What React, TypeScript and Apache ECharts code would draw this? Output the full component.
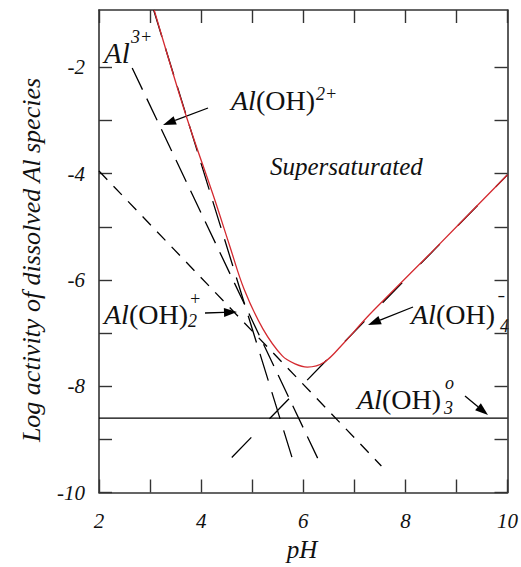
import React, { useEffect, useRef } from "react";
import * as echarts from "echarts";

// pH axis
const xMin = 2;
const xMax = 10;
const xTicks = [2, 3, 4, 5, 6, 7, 8, 9, 10];
const xLabels = [2, 4, 6, 8, 10];
// log activity axis
const yMin = -10;
const yMax = -0.92;
const yTicks = [-10, -9, -8, -7, -6, -5, -4, -3, -2];
const yLabels = [-10, -8, -6, -4, -2];

// species lines [pH, log activity]
const al3 = [[3.07, -0.92], [5.78, -9.34]];
const alOH2plus = [[2.65, -2.01], [6.31, -9.41]];
const alOH2 = [[2.0, -3.95], [7.53, -9.5]];
const alOH3 = [[2.0, -8.6], [10.0, -8.6]];
const alOH4 = [[4.6, -9.34], [10.0, -4.02]];
// total dissolved Al (red)
const total = [
  [3.08, -0.92], [3.7, -2.89], [4.27, -4.5], [4.56, -5.36], [4.84, -6.17],
  [5.21, -6.92], [5.59, -7.43], [5.84, -7.58], [6.08, -7.64], [6.41, -7.55],
  [6.79, -7.19], [7.23, -6.72], [7.69, -6.27], [8.5, -5.49], [10.0, -4.02],
];

const FONT = "Liberation Serif";
const SP = 28; // species label size
const SUB = 18;

function measure(size: number): number {
  const c = document.createElement("canvas").getContext("2d")!;
  c.font = `italic ${size}px ${FONT}`;
  const a = c.measureText("Al").width;
  c.font = `${size}px ${FONT}`;
  return a + c.measureText("(OH)").width;
}

function arrow(tx: number, ty: number, hx: number, hy: number) {
  const dx = hx - tx, dy = hy - ty;
  const L = Math.sqrt(dx * dx + dy * dy);
  const ux = dx / L, uy = dy / L;
  const hl = 13, hw = 4.5;
  const bx = hx - ux * hl, by = hy - uy * hl;
  return [
    { type: "line", shape: { x1: tx, y1: ty, x2: bx, y2: by }, style: { stroke: "#000", lineWidth: 1.3 } },
    {
      type: "polygon",
      shape: { points: [[hx, hy], [bx - uy * hw, by + ux * hw], [bx + uy * hw, by - ux * hw]] },
      style: { fill: "#000" },
    },
  ];
}

function txt(x: number, y: number, text: string, size: number, italic = true, extra: any = {}) {
  return {
    type: "text",
    x,
    y,
    style: {
      text,
      font: `${italic ? "italic " : ""}${size}px ${FONT}`,
      fill: "#111",
      textVerticalAlign: "middle",
      ...extra,
    },
  };
}

function species(x: number, y: number, size: number) {
  return {
    type: "text",
    x,
    y,
    style: {
      text: "{i|Al}{n|(OH)}",
      textVerticalAlign: "middle",
      rich: {
        i: { fontFamily: FONT, fontStyle: "italic", fontSize: size, fill: "#111" },
        n: { fontFamily: FONT, fontStyle: "normal", fontSize: size, fill: "#111" },
      },
    },
  };
}

export default function App() {
  const ref = useRef<HTMLDivElement>(null);
  useEffect(() => {
    document.body.style.margin = "0";
    const chart = echarts.init(ref.current!, null, { renderer: "svg" });
    const w = measure(SP);
    const axisLine = { show: true, lineStyle: { color: "#333", width: 1.6 } };
    const tick = { show: true, inside: true, length: 13, lineStyle: { color: "#333", width: 1.4 } };
    const lineSeries = (data: number[][], dash: any, color = "#000", width = 1.3, z = 2) => ({
      type: "line",
      data,
      showSymbol: false,
      z,
      lineStyle: { color, width, type: dash },
      silent: true,
    });
    const lbl = { fontFamily: FONT, fontStyle: "italic", fontSize: 21, color: "#111" };
    chart.setOption({
      animation: false,
      grid: { left: 99, right: 2, top: 10, bottom: 74.5 },
      xAxis: [
        {
          type: "value", min: xMin, max: xMax, interval: 1,
          axisLine, axisTick: { ...tick, customValues: xTicks }, splitLine: { show: false },
          axisLabel: { ...lbl, customValues: xLabels, margin: 18 },
        },
        {
          type: "value", position: "top", min: xMin, max: xMax, interval: 1,
          axisLine, axisTick: { ...tick, customValues: xTicks }, splitLine: { show: false },
          axisLabel: { show: false },
        },
      ],
      yAxis: [
        {
          type: "value", min: yMin, max: yMax, interval: 1,
          axisLine, axisTick: { ...tick, customValues: yTicks }, splitLine: { show: false },
          axisLabel: { ...lbl, customValues: yLabels, margin: 14 },
        },
        {
          type: "value", position: "right", min: yMin, max: yMax, interval: 1,
          axisLine, axisTick: { ...tick, customValues: yTicks }, splitLine: { show: false },
          axisLabel: { show: false },
        },
      ],
      series: [
        lineSeries(al3, [28, 12]),
        lineSeries(alOH2plus, [24, 10]),
        lineSeries(alOH2, [12, 9]),
        lineSeries(alOH3, "solid"),
        lineSeries(alOH4, [28, 26]),
        { ...lineSeries(total, "solid", "#d42a30", 1.3, 5), smooth: 0.35 },
      ],
      graphic: [
        // axis titles
        txt(302, 549, "pH", 25, true, { textAlign: "center" }),
        {
          type: "text", x: 31, y: 260, rotation: Math.PI / 2,
          style: {
            text: "Log activity of dissolved Al species",
            font: `italic 26px ${FONT}`, fill: "#111",
            textAlign: "center", textVerticalAlign: "middle",
          },
        },
        // Al3+
        txt(104, 53, "Al", 29),
        txt(131, 37, "3+", SUB),
        // Al(OH)2+
        species(231, 100, SP),
        txt(231 + w + 1, 94, "2+", SUB),
        ...arrow(208, 108, 163, 125),
        // Supersaturated
        txt(270, 166, "Supersaturated", 25),
        // Al(OH)2 +
        species(104, 314, SP),
        txt(104 + w + 1, 299, "+", SUB),
        txt(104 + w, 321, "2", SUB),
        ...arrow(205, 313, 237, 312),
        // Al(OH)4 -
        species(411, 314, SP),
        txt(411 + w + 3, 296, "\u2013", 20, false, { fontWeight: "bold" }),
        txt(411 + w + 5, 326, "4", SUB),
        ...arrow(413, 307, 368, 325),
        // Al(OH)3 0
        species(357, 399, SP),
        txt(357 + w + 4, 383, "o", SUB),
        txt(357 + w + 3, 408, "3", SUB),
        ...arrow(465, 396, 488, 415),
      ],
    });
    return () => chart.dispose();
  }, []);
  return <div ref={ref} style={{ width: 521, height: 567 }} />;
}
